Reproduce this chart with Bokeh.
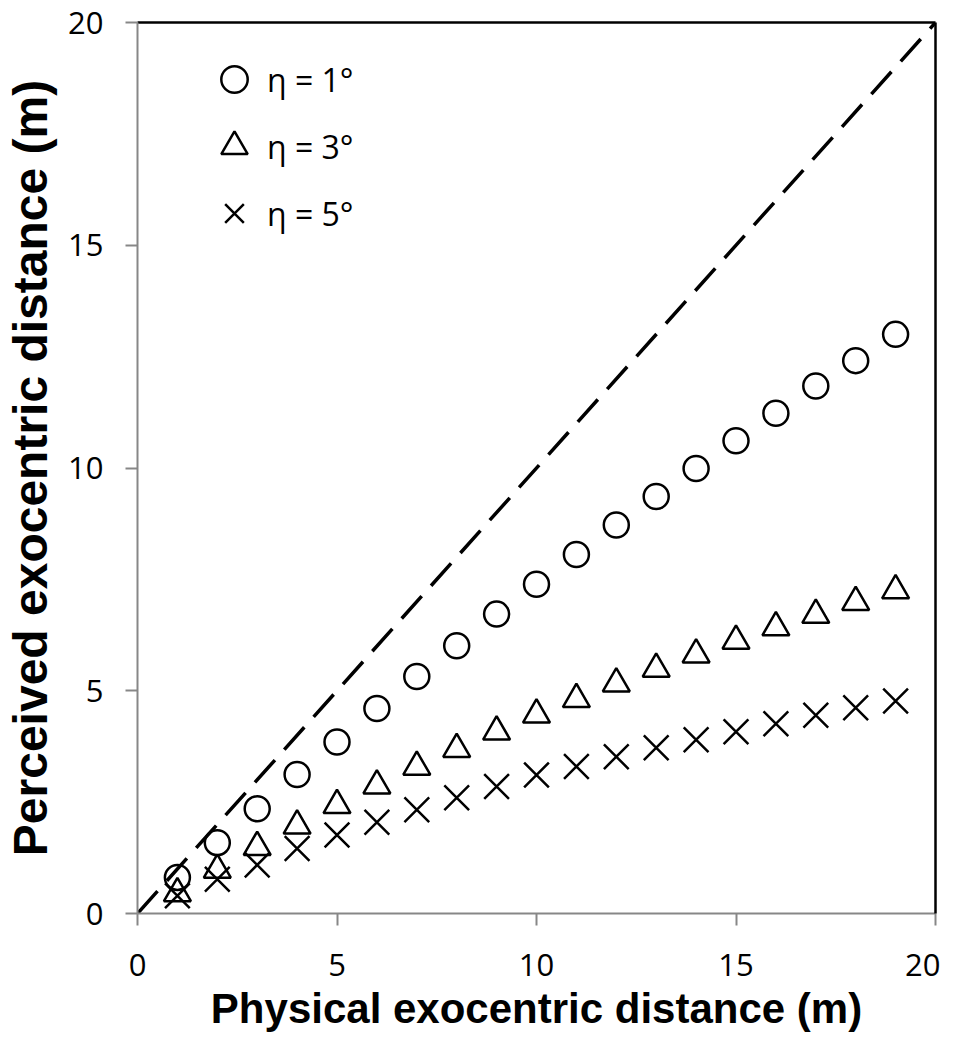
from bokeh.plotting import figure
from bokeh.models import Range1d, Legend, LegendItem, FixedTicker, LinearAxis
from bokeh.embed import file_html
from bokeh.resources import INLINE

physical = list(range(1, 20))
eta1 = [0.81, 1.59, 2.35, 3.12, 3.85, 4.60, 5.32, 6.01, 6.72, 7.39, 8.06, 8.72, 9.36, 9.99, 10.61, 11.23, 11.84, 12.41, 13.00]
eta3 = [0.45, 0.98, 1.49, 1.97, 2.43, 2.87, 3.29, 3.69, 4.08, 4.46, 4.81, 5.16, 5.49, 5.81, 6.12, 6.42, 6.70, 6.99, 7.25]
eta5 = [0.40, 0.77, 1.09, 1.46, 1.76, 2.05, 2.33, 2.60, 2.85, 3.11, 3.30, 3.52, 3.72, 3.90, 4.08, 4.26, 4.45, 4.62, 4.77]
identity = [0, 20]
ticks = [0, 5, 10, 15, 20]
labels = ["η = 1°", "η = 3°", "η = 5°"]

p = figure(width=940, height=1034, output_backend="svg", toolbar_location=None,
           x_range=Range1d(0, 20), y_range=Range1d(0, 20),
           min_border_left=137, min_border_right=5, min_border_top=22, min_border_bottom=110)
p.grid.visible = False
p.background_fill_color = "white"
p.outline_line_color = None

xax = p.xaxis[0]
yax = p.yaxis[0]

for ax in (xax, yax):
    ax.ticker = FixedTicker(ticks=ticks)
    ax.axis_line_color = "#878787"
    ax.axis_line_width = 2
    ax.major_tick_line_color = "#878787"
    ax.major_tick_line_width = 2
    ax.major_tick_out = 12
    ax.major_tick_in = 0
    ax.minor_tick_line_color = None
    ax.major_label_text_font = "Open Sans"
    ax.major_label_text_font_size = "31px"
    ax.major_label_text_color = "black"
    ax.axis_label_text_font = "Liberation Sans"
    ax.axis_label_text_font_style = "bold"
    ax.axis_label_text_color = "black"

xax.axis_label = "Physical exocentric distance (m)"
xax.axis_label_text_font_size = "42px"
xax.major_label_standoff = 28
xax.axis_label_standoff = 6
yax.axis_label = "Perceived exocentric distance (m)"
yax.axis_label_text_font_size = "48px"
yax.major_label_standoff = 22
yax.axis_label_standoff = 8

# black frame on top and right
for side in ("above", "right"):
    fa = LinearAxis(ticker=FixedTicker(ticks=[]), axis_line_color="black", axis_line_width=2.5,
                    major_tick_line_color=None, minor_tick_line_color=None,
                    major_tick_out=0, major_tick_in=0, major_label_standoff=0,
                    axis_label=None, major_label_text_font_size="0px")
    p.add_layout(fa, side)

p.line(identity, identity, line_color="black", line_width=3.5, line_dash="30 14")

r1 = p.scatter(physical, eta1, marker="circle", size=25, fill_color=None,
               line_color="black", line_width=2.5)
r3 = p.scatter(physical, eta3, marker="triangle", size=27, fill_color=None,
               line_color="black", line_width=2.5)
r5 = p.scatter(physical, eta5, marker="x", size=35, line_color="black", line_width=2.5)

legend = Legend(items=[LegendItem(label=labels[0], renderers=[r1]),
                       LegendItem(label=labels[1], renderers=[r3]),
                       LegendItem(label=labels[2], renderers=[r5])],
                location=(64, 667), glyph_width=66, glyph_height=66, spacing=1,
                padding=10, margin=0, border_line_color=None, background_fill_alpha=0,
                label_text_font="Open Sans", label_text_font_size="32px",
                label_text_color="black", label_standoff=-35)
p.add_layout(legend, "center")

open("out.html", "w").write(file_html(p, INLINE))
